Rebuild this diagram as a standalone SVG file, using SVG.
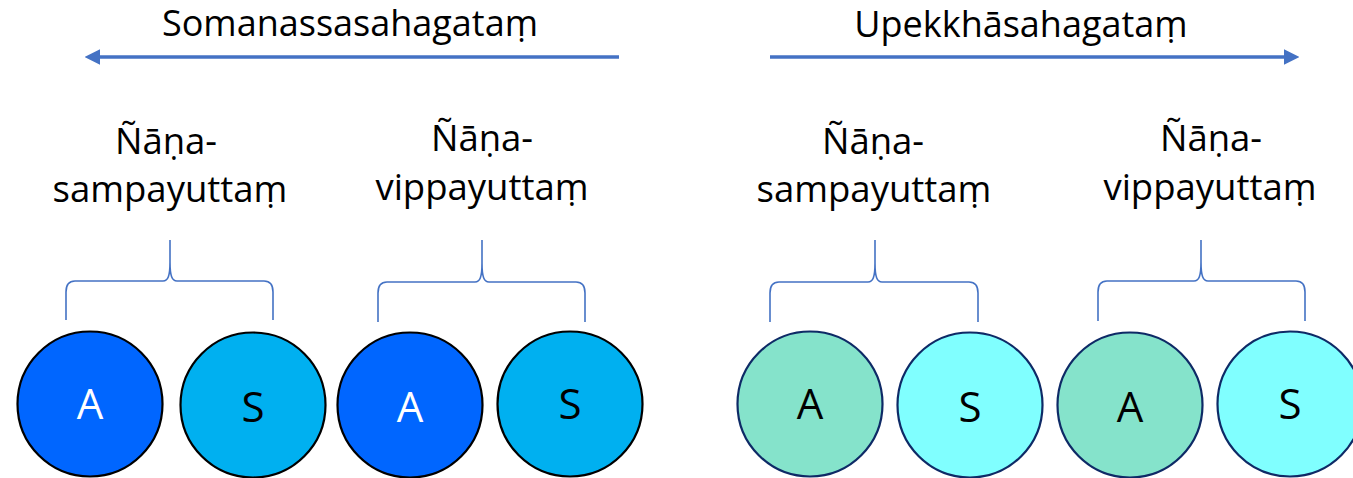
<svg xmlns="http://www.w3.org/2000/svg" width="1353" height="478" viewBox="0 0 1353 478">
  <defs>
    <marker id="arrowhead" viewBox="0 0 10 10" refX="2" refY="5" markerWidth="4.4" markerHeight="4.6" markerUnits="strokeWidth" orient="auto">
      <path d="M0,0 L10,5 L0,10 z" fill="#4472C4"/>
    </marker>
    <style>
      .title { font-family: "Open Sans", "Noto Sans", sans-serif; font-size: 36px; fill: #000; text-anchor: middle; }
      .label { font-family: "Open Sans", "Noto Sans", sans-serif; font-size: 36.5px; fill: #000; text-anchor: middle; }
      .letter { font-family: "Open Sans", "Noto Sans", sans-serif; font-size: 42px; text-anchor: middle; }
      .arrow { stroke: #4472C4; stroke-width: 3.5; fill: none; }
      .brace { stroke: #4472C4; stroke-width: 1.6; fill: none; }
      .warm { stroke: #000; stroke-width: 2.2; }
      .cool { stroke: #0E2A66; stroke-width: 2.2; }
    </style>
  </defs>

  <!-- section headings -->
  <g id="heading-somanassa">
    <text class="title" x="350" y="36">Somanassasahagataṃ</text>
  </g>
  <g id="heading-upekkha">
    <text class="title" x="1021" y="37">Upekkhāsahagataṃ</text>
  </g>

  <!-- direction arrows and grouping braces -->
  <g id="connectors">
    <line class="arrow" x1="619" y1="57" x2="97" y2="57" marker-end="url(#arrowhead)"/>
    <line class="arrow" x1="770" y1="57" x2="1287" y2="57" marker-end="url(#arrowhead)"/>

    <path class="brace" d="M66,320 L66,292 Q66,281 75,281 L163,281 C168,281 170,276 170,262 L170,240 M170,262 C170,276 172,281 177,281 L264,281 Q273,281 273,292 L273,320"/>
    <path class="brace" d="M378,322 L378,293 Q378,282 387,282 L475,282 C480,282 482,277 482,263 L482,240 M482,263 C482,277 484,282 489,282 L576,282 Q585,282 585,293 L585,322"/>
    <path class="brace" d="M770,322 L770,293 Q770,282 779,282 L868,282 C873,282 875,277 875,263 L875,240 M875,263 C875,277 877,282 882,282 L969,282 Q978,282 978,293 L978,322"/>
    <path class="brace" d="M1098,321 L1098,292 Q1098,281 1107,281 L1194,281 C1199,281 1201,276 1201,262 L1201,240 M1201,262 C1201,276 1203,281 1208,281 L1296,281 Q1305,281 1305,292 L1305,321"/>
  </g>

  <!-- group labels -->
  <g id="label-somanassa-sampayutta">
    <text class="label" x="166" y="154">Ñāṇa-</text>
    <text class="label" x="170" y="202">sampayuttaṃ</text>
  </g>
  <g id="label-somanassa-vippayutta">
    <text class="label" x="482" y="151">Ñāṇa-</text>
    <text class="label" x="482" y="200">vippayuttaṃ</text>
  </g>
  <g id="label-upekkha-sampayutta">
    <text class="label" x="873" y="154">Ñāṇa-</text>
    <text class="label" x="874" y="202">sampayuttaṃ</text>
  </g>
  <g id="label-upekkha-vippayutta">
    <text class="label" x="1211" y="151">Ñāṇa-</text>
    <text class="label" x="1210" y="200">vippayuttaṃ</text>
  </g>

  <!-- somanassa circles -->
  <g id="node-a1">
    <circle class="warm" cx="90" cy="404" r="72.5" fill="#0066FF"/>
    <text class="letter" x="90" y="419" fill="#FFFFFF">A</text>
  </g>
  <g id="node-s1">
    <circle class="warm" cx="253" cy="405" r="72.5" fill="#00B0F0"/>
    <text class="letter" x="253" y="422" fill="#000000">S</text>
  </g>
  <g id="node-a2">
    <circle class="warm" cx="410" cy="405" r="72.5" fill="#0066FF"/>
    <text class="letter" x="410" y="422" fill="#FFFFFF">A</text>
  </g>
  <g id="node-s2">
    <circle class="warm" cx="570" cy="404" r="72.5" fill="#00B0F0"/>
    <text class="letter" x="570" y="419" fill="#000000">S</text>
  </g>

  <!-- upekkha circles -->
  <g id="node-a3">
    <circle class="cool" cx="810" cy="404" r="72.5" fill="#85E3CB"/>
    <text class="letter" x="810" y="419" fill="#000000">A</text>
  </g>
  <g id="node-s3">
    <circle class="cool" cx="970" cy="405" r="72.5" fill="#80FFFF"/>
    <text class="letter" x="970" y="422" fill="#000000">S</text>
  </g>
  <g id="node-a4">
    <circle class="cool" cx="1130" cy="405" r="72.5" fill="#85E3CB"/>
    <text class="letter" x="1130" y="422" fill="#000000">A</text>
  </g>
  <g id="node-s4">
    <circle class="cool" cx="1290" cy="404" r="72.5" fill="#80FFFF"/>
    <text class="letter" x="1290" y="419" fill="#000000">S</text>
  </g>
</svg>
